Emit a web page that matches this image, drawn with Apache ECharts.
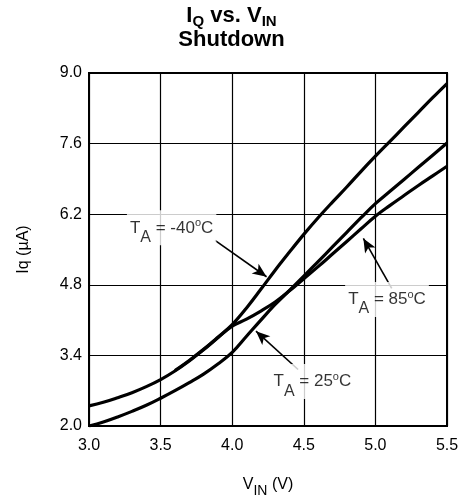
<!DOCTYPE html>
<html><head><meta charset="utf-8">
<script src="https://cdn.jsdelivr.net/npm/echarts@6/dist/echarts.min.js"></script>
<style>html,body{margin:0;padding:0;background:#fff}#c{width:463px;height:503px}</style>
</head><body><div id="c"></div>
<script>
const vin   = [3.0,3.1,3.2,3.3,3.4,3.5,3.6,3.7,3.8,3.9,4.0,4.1,4.2,4.3,4.4,4.5,4.6,4.7,4.8,4.9,5.0,5.1,5.2,5.3,5.4,5.5];
const iq25  = [2.00,2.08,2.18,2.29,2.41,2.55,2.70,2.86,3.03,3.23,3.46,3.78,4.10,4.41,4.69,4.97,5.26,5.55,5.84,6.13,6.41,6.65,6.89,7.13,7.37,7.61];
const iq85  = [2.40,2.47,2.56,2.66,2.78,2.92,3.09,3.29,3.51,3.75,3.98,4.12,4.28,4.46,4.68,4.92,5.16,5.41,5.66,5.91,6.16,6.37,6.57,6.77,6.96,7.15];
const iqM40 = [null,null,null,null,null,null,3.10,3.30,3.52,3.76,4.01,4.34,4.71,5.09,5.45,5.80,6.13,6.44,6.74,7.05,7.35,7.64,7.93,8.22,8.51,8.79];
const xTicks = [3.0,3.5,4.0,4.5,5.0,5.5];
const yTicks = [2.0,3.4,4.8,6.2,7.6,9.0];
const labelNames = ['-40','25','85'];
const labelPos   = [[3.577,5.93],[4.56,2.88],[5.081,4.51]];
const arrowTail  = [[3.88,5.68],[4.46,3.12],[5.114,4.73]];
const arrowTip   = [[4.24,4.96],[4.166,3.88],[4.916,5.72]];

const FONT = "'Liberation Sans', Arial, Helvetica, sans-serif";
const pairs = arr => vin.map((v,i)=>[v,arr[i]]).filter(p=>p[1]!==null);
const curve = (name, arr) => ({
  name, type:'line', data: pairs(arr), showSymbol:false, smooth:0.4,
  lineStyle:{color:'#000', width:3.2}, itemStyle:{color:'#000'}, silent:true, z:3
});
const chart = echarts.init(document.getElementById('c'), null, {renderer:'canvas'});
const labelRich = {
  t:{fontSize:17, color:'#000', fontFamily:FONT},
  sub:{fontSize:16, color:'#000', fontFamily:FONT, padding:[19,0,0,0]},
  sup:{fontSize:11, color:'#000', fontFamily:FONT, padding:[0,0,9,0]}
};
chart.setOption({
  animation:false,
  backgroundColor:'#fff',
  title:[{
    left:'center', top:-2,
    text:'{b|I}{s|Q}{b| vs. V}{s|IN}',
    textStyle:{rich:{
      b:{fontSize:22, fontWeight:'bold', color:'#000', fontFamily:FONT},
      s:{fontSize:15, fontWeight:'bold', color:'#000', fontFamily:FONT, padding:[11,0,0,0]}
    }}
  },{
    left:'center', top:24,
    text:'Shutdown',
    textStyle:{fontSize:22, fontWeight:'bold', color:'#000', fontFamily:FONT}
  }],
  grid:{left:89, right:16, top:73, bottom:75, show:true, borderColor:'#000', borderWidth:2, containLabel:false},
  xAxis:{
    type:'value', min:3.0, max:5.5, interval:0.5,
    name:'{v|V}{s|IN}{v| (V)}', nameLocation:'middle', nameGap:46,
    nameTextStyle:{rich:{
      v:{fontSize:16, color:'#000', fontFamily:FONT},
      s:{fontSize:14, color:'#000', fontFamily:FONT, padding:[12,0,0,0]}
    }},
    axisLine:{show:true, lineStyle:{color:'#000', width:2}},
    axisTick:{show:false},
    axisLabel:{color:'#000', fontSize:16, fontFamily:FONT, margin:12, formatter:v=>v.toFixed(1)},
    splitLine:{show:true, lineStyle:{color:'#000', width:1.2}}
  },
  yAxis:{
    type:'value', min:2.0, max:9.0, interval:1.4,
    name:'Iq (\u00b5A)', nameLocation:'middle', nameGap:57,
    nameTextStyle:{fontSize:16, color:'#000', fontFamily:FONT},
    axisLine:{show:true, lineStyle:{color:'#000', width:2}},
    axisTick:{show:false},
    axisLabel:{color:'#000', fontSize:16, fontFamily:FONT, margin:7, formatter:v=>v.toFixed(1)},
    splitLine:{show:true, lineStyle:{color:'#000', width:1.2}}
  },
  series:[
    curve('-40', iqM40),
    curve('25', iq25),
    curve('85', iq85),
    {
      type:'scatter', symbolSize:0, silent:true, z:5,
      data: labelPos.map((p,i)=>({value:p, name:labelNames[i]})),
      label:{
        show:true, position:'inside', align:'center', verticalAlign:'middle',
        backgroundColor:'#fff', padding:[0,3,0,3],
        formatter:p=>'{t|T}{sub|A}{t| = '+p.name+'}{sup|o}{t|C}',
        rich:labelRich
      },
      markLine:{
        silent:true, symbol:['none','arrow'], symbolSize:[9,14],
        lineStyle:{color:'#000', width:1.6, type:'solid'},
        label:{show:false},
        data: arrowTail.map((t,i)=>[{coord:t},{coord:arrowTip[i]}])
      }
    }
  ]
});
</script></body></html>
